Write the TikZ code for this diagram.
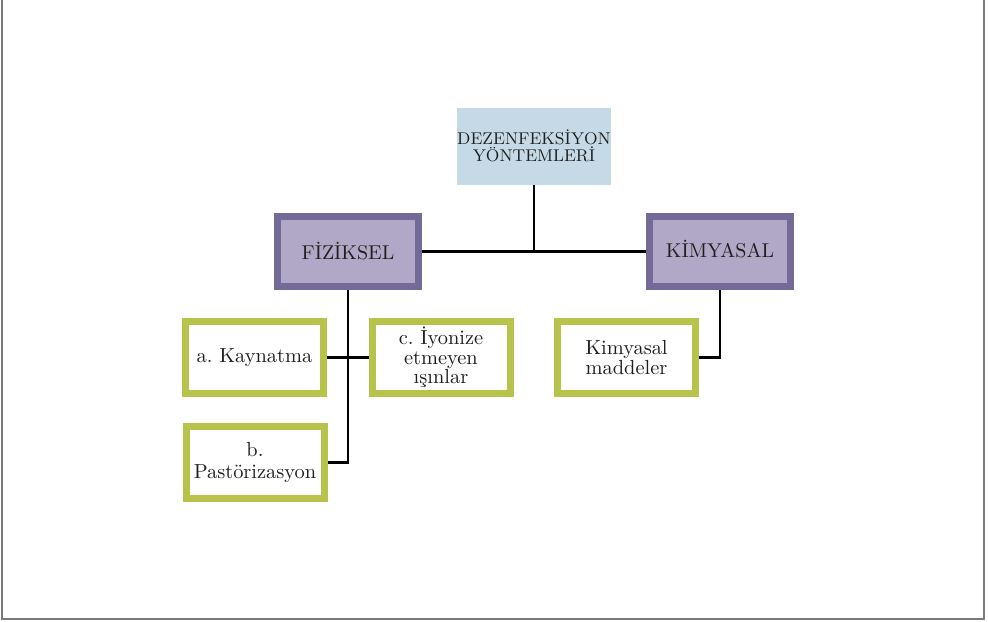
\documentclass[tikz,border=0pt]{standalone}
\usepackage{fontspec}
\frenchspacing
\definecolor{dezblue}{HTML}{C5DAE6}
\definecolor{purfill}{HTML}{B0A8C6}
\definecolor{purline}{HTML}{736A98}
\definecolor{grline}{HTML}{B7C34B}
\definecolor{txt}{HTML}{1E1E1E}
\definecolor{frame}{HTML}{7A7A7A}
\begin{document}
\begin{tikzpicture}[x=0.5pt,y=-0.5pt,
  topbox/.style={fill=dezblue,draw=none,minimum width=74pt,minimum height=38.5pt,inner sep=0pt,
    align=center,text=txt,font=\fontsize{8.5}{8.8}\selectfont},
  catbox/.style={fill=purfill,draw=purline,line width=3.5pt,minimum width=70.5pt,minimum height=35pt,
    inner sep=0pt,align=center,text=txt,font=\fontsize{10}{11}\selectfont},
  leafbox/.style={fill=white,draw=grline,line width=3.5pt,minimum width=69pt,minimum height=36pt,
    inner sep=0pt,align=center,text=txt},
  conn/.style={line width=1.3pt,black}]
\useasboundingbox (0,0) rectangle (988,621);
\draw[frame,line width=1pt] (2,0) -- (2,619) -- (984,619) -- (984,0);

\node[topbox] (dez) at (534,146) {DEZENFEKSİYON\\YÖNTEMLERİ};
\node[catbox] (fiz) at (348,251.5) {FİZİKSEL};
\node[catbox] (kim) at (720,251.5) {\raisebox{3pt}{KİMYASAL}};

\node[leafbox,font=\fontsize{10.2}{10}\selectfont] (kay) at (254.5,357.5) {a. Kaynatma};
\node[leafbox,font=\fontsize{10.2}{9.8}\selectfont] (iyo) at (441,357.5) {c. İyonize\\etmeyen\\ışınlar};
\node[leafbox,font=\fontsize{10.2}{11}\selectfont] (pas) at (255,462.5) {b.\\Pastörizasyon};
\node[leafbox,font=\fontsize{10.2}{10.2}\selectfont] (kmd) at (626.5,357.5) {Kimyasal\\maddeler};

\draw[conn] (dez.south) -- (dez.south |- fiz.east);
\draw[conn] (fiz.east) -- (kim.west);
\draw[conn] (fiz.south) -- (fiz.south |- pas.east) -- (pas.east);
\draw[conn] (kay.east) -- (iyo.west);
\draw[conn] (kim.south) -- (kim.south |- kmd.east) -- (kmd.east);
\end{tikzpicture}
\end{document}
